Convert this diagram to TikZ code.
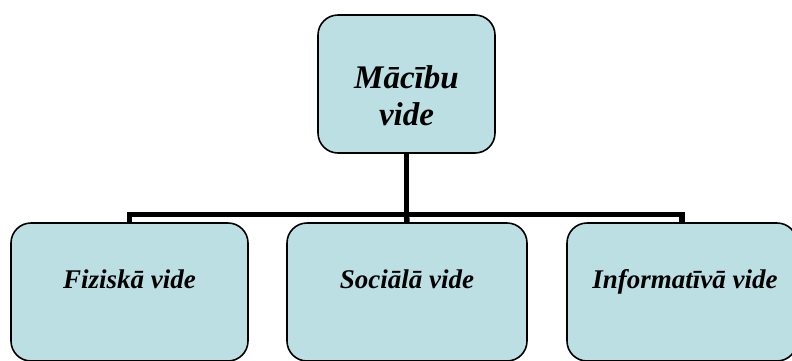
\documentclass[tikz,border=0pt]{standalone}
\usepackage{fontspec}
\setmainfont{Liberation Serif}
\begin{document}
\begin{tikzpicture}[x=1pt,y=-1pt,
  box/.style={draw=black, line width=1.6pt, fill=boxfill, rounded corners=20pt, inner sep=0pt},
  lbl/.style={align=center, inner sep=0pt, anchor=base},
  big/.style={font=\fontsize{33}{37}\selectfont\bfseries\itshape},
  small/.style={font=\fontsize{27}{30}\selectfont\bfseries\itshape},
  link/.style={line width=5.5pt}]
\definecolor{boxfill}{HTML}{BBDFE3}
\useasboundingbox (0,0) rectangle (792,360);
% root and the three kinds of environment
\node[box, minimum width=177pt, minimum height=138pt] (root) at (406.5,84) {};
\node[box, minimum width=237pt, minimum height=138pt] (phys) at (129.5,292) {};
\node[box, minimum width=240pt, minimum height=138pt] (soc)  at (407,292) {};
\node[box, minimum width=230pt, minimum height=138pt] (info) at (682,292) {};
% labels (base anchor sits on the last line)
\node[lbl, big] (troot) at (406.5,125) {Mācību\\vide};
\node[lbl, small] (tphys) at (129.5,288) {Fiziskā vide};
\node[lbl, small] (tsoc)  at (407,288) {Sociālā vide};
\node[lbl, small] (tinfo) at (685,288) {Informatīvā vide};
% connectors
\coordinate (bar) at (406.5,214.5);
\draw[link] (root.south) -- (bar);
\draw[link] (phys.north) |- (bar) -| (info.north);
\draw[link] (bar) -- (soc.north);
\end{tikzpicture}
\end{document}
